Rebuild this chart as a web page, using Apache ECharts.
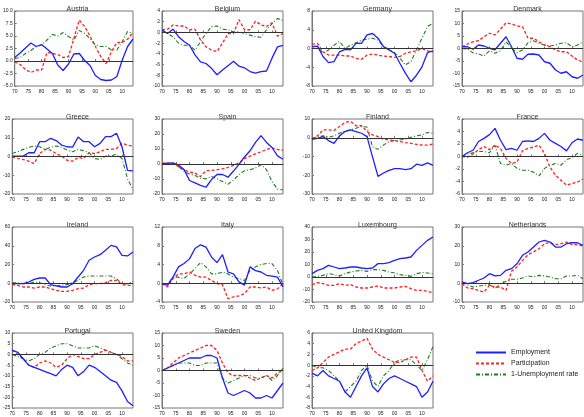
<!DOCTYPE html>
<html><head><meta charset="utf-8">
<script src="https://cdn.jsdelivr.net/npm/echarts@6/dist/echarts.min.js"></script>
<style>html,body{margin:0;padding:0;background:#fff}#c{width:584px;height:417px}</style>
</head><body><div id="c"></div>
<script>
const YEARS=[1970,1972,1974,1976,1978,1980,1982,1984,1986,1988,1990,1992,1994,1996,1998,2000,2002,2004,2006,2008,2010,2012,2014];
const SERIES_NAMES=['Employment','Participation','1-Unemployment rate'];

const austriaEmp=[0.7,1.6,2.6,3.6,2.9,3.3,2.4,1.5,-0.8,-1.9,-0.6,1.4,1.5,0.1,-0.9,-2.9,-3.7,-3.9,-3.8,-3.1,0.2,2.9,4.4];
const austriaPart=[-0.2,-0.7,-1.7,-2.3,-1.8,-1.8,1.7,1.5,1.3,0.7,0.9,4.5,8.2,6.9,5.0,2.9,0.9,-0.5,1.9,3.7,3.7,4.4,5.7];
const austriaUnemp=[0.5,0.7,1.5,2.1,2.9,3.2,4.2,5.3,5.0,5.7,4.9,4.2,6.1,5.5,4.5,3.2,2.9,2.9,2.2,2.2,3.9,5.9,5.5];

const belgiumEmp=[0.4,-0.2,0.6,-0.8,-1.7,-2.4,-4.2,-5.5,-5.8,-6.7,-7.9,-7.0,-6.2,-5.4,-6.3,-6.6,-7.3,-7.6,-7.3,-7.2,-4.8,-2.7,-2.4];
const belgiumPart=[0.5,0.6,1.4,1.2,1.2,0.5,0.6,-1.4,-2.7,-3.3,-3.6,-2.0,-0.2,-0.2,2.4,0.5,0.5,2.1,1.4,1.1,1.8,-0.7,-0.2];
const belgiumUnemp=[0.5,-0.2,-0.8,-2.0,-2.4,-2.4,-3.3,-1.7,-0.2,1.1,1.2,0.6,0.5,0.1,0.1,-0.2,-0.5,-0.8,-0.9,0.5,1.6,2.6,2.2];

const germanyEmp=[0.4,0.5,-1.7,-3.0,-2.8,-0.7,-0.2,-0.3,1.1,1.1,2.9,3.2,2.2,0.4,-0.3,-1.0,-3.2,-5.3,-7.1,-5.7,-3.9,-0.9,-0.5];
const germanyPart=[0.9,1.1,-0.7,-1.4,-1.4,-1.4,-1.6,-1.6,-2.1,-2.3,-1.4,-1.2,-1.4,-1.6,-1.7,-1.9,-1.7,-1.0,-0.7,-0.5,0.0,-0.5,-0.7];
const germanyUnemp=[0.4,0.4,-1.0,-0.3,0.7,1.5,0.0,0.7,1.2,1.8,2.0,2.2,1.8,0.4,-0.2,-0.9,-2.1,-3.5,-2.8,-0.3,2.2,4.7,5.4];

const denmarkEmp=[0.7,0.7,-0.3,1.4,1.0,0.1,-0.5,2.1,4.7,0.7,-3.9,-4.3,-2.3,-2.2,-2.6,-5.3,-5.9,-8.6,-9.9,-9.3,-11.3,-11.9,-10.6];
const denmarkPart=[0.7,1.8,2.7,3.1,4.7,6.1,5.4,7.7,10.3,9.8,9.0,8.7,4.1,4.1,2.7,1.4,0.7,-0.6,-1.3,-1.3,-3.0,-4.6,-5.5];
const denmarkUnemp=[0.0,-0.3,-1.7,-2.2,-3.0,-0.9,-1.9,-0.9,2.7,0.1,-1.7,-0.6,2.3,3.1,2.1,1.4,1.0,1.4,2.1,2.3,0.7,1.4,2.7];

const greeceEmp=[0.2,0.2,0.2,2.0,2.0,7.9,7.9,9.7,8.5,6.1,5.2,5.0,10.4,7.9,7.9,5.2,7.0,10.6,10.6,12.4,5.2,-7.4,-7.7];
const greecePart=[-0.2,-1.1,-1.6,-2.5,-3.8,1.6,3.8,3.4,1.6,0.2,-2.0,-2.5,-0.5,-1.1,2.0,1.6,2.5,3.8,3.8,4.3,7.0,6.1,5.6];
const greeceUnemp=[1.6,2.5,3.8,4.9,5.6,5.2,3.8,4.9,5.6,4.9,3.4,2.5,3.8,3.1,2.0,-1.1,-1.6,0.2,0.2,1.3,-1.1,-11.9,-17.7];

const spainEmp=[0.0,0.5,0.8,-0.7,-3.6,-11.0,-12.6,-14.2,-15.5,-10.4,-7.0,-7.0,-8.8,-4.7,-0.3,4.7,8.8,14.4,18.9,14.4,11.0,5.4,3.2];
const spainPart=[0.5,0.5,0.0,-1.6,-3.8,-5.4,-6.1,-8.3,-4.5,-4.3,-3.8,-3.2,-2.3,-0.9,0.7,3.6,5.2,6.8,8.1,9.7,10.8,9.7,9.2];
const spainUnemp=[0.0,0.2,0.2,-1.6,-4.9,-6.7,-7.6,-9.4,-9.9,-8.3,-9.9,-11.7,-13.5,-10.6,-7.2,-4.5,-3.8,-2.7,-0.5,-3.8,-11.7,-16.7,-17.3];

const finlandEmp=[-0.8,-0.3,0.6,-1.5,-3.0,1.0,3.3,4.2,3.3,2.4,0.6,-10.2,-20.6,-18.8,-17.4,-16.5,-16.5,-17.0,-16.5,-14.1,-14.7,-13.4,-14.7];
const finlandPart=[-0.5,1.0,4.2,4.2,3.9,6.0,8.2,8.7,6.4,6.4,3.3,1.5,0.6,-0.8,-1.2,-1.5,-2.1,-2.6,-3.0,-3.5,-3.9,-3.9,-3.3];
const finlandUnemp=[-0.3,0.3,1.0,0.3,1.0,2.4,3.7,4.2,5.1,6.0,5.7,-4.8,-6.2,-3.9,-2.1,-1.5,-1.2,-0.8,0.3,1.0,1.5,2.8,2.4];

const franceEmp=[0.0,0.6,1.0,2.4,2.9,3.5,4.5,2.6,1.1,1.3,1.0,2.4,2.5,2.4,2.9,3.7,2.6,2.1,1.6,0.9,2.2,2.8,2.6];
const francePart=[0.0,-0.1,0.4,1.1,1.6,1.1,1.8,1.3,-0.3,-1.1,-0.9,0.9,1.3,1.5,1.8,0.5,-1.7,-3.0,-3.8,-4.6,-4.3,-4.1,-3.6];
const franceUnemp=[0.0,0.4,0.6,0.8,0.8,0.6,1.8,-1.1,-1.4,-1.1,-1.9,-2.2,-2.2,-2.5,-3.1,-1.9,-1.4,-1.1,-1.4,-0.5,-0.2,0.5,0.2];

const irelandEmp=[-0.4,-0.4,-0.4,1.3,4.2,5.6,5.6,-1.5,-2.9,-4.0,-4.0,-0.5,6.7,13.8,24.5,28.0,30.5,35.1,40.4,38.7,29.8,29.1,33.4];
const irelandPart=[-1.5,-2.2,-4.0,-4.0,-5.1,-4.0,-4.0,-5.8,-7.6,-8.6,-8.6,-7.6,-5.8,-5.1,-1.5,-0.4,-0.4,0.6,3.1,3.1,-1.5,-2.2,-2.2];
const irelandUnemp=[0.6,0.6,-0.4,-0.4,1.3,0.6,-1.5,-2.9,-2.9,-2.2,-1.5,0.6,3.1,6.7,7.7,7.7,7.7,7.7,7.7,4.9,-0.4,-0.4,2.0];

const italyEmp=[-0.1,-0.4,1.3,3.5,4.2,5.2,7.4,8.2,7.7,5.6,4.4,6.1,2.4,2.0,0.3,-0.4,3.5,2.7,2.4,1.7,1.5,1.3,-0.8];
const italyPart=[-0.1,-0.8,1.0,2.0,2.0,2.4,1.7,1.3,1.3,0.6,-0.1,-0.3,-3.3,-2.9,-2.7,-2.2,-0.8,-0.8,-1.0,-0.8,-1.5,-1.2,-0.1];
const italyUnemp=[-0.1,-0.4,1.3,1.3,1.0,2.0,3.1,4.4,3.5,2.0,2.0,2.4,2.0,1.3,1.0,0.6,2.7,3.5,4.0,4.2,4.2,2.7,-0.4];

const luxembourgEmp=[2.7,5.3,6.7,9.3,8.0,6.7,7.2,8.0,8.0,7.2,6.7,7.2,10.7,10.7,11.5,13.3,14.7,15.2,16.0,21.3,25.3,29.3,32.0];
const luxembourgPart=[-6.1,-4.5,-5.3,-6.7,-6.7,-5.3,-6.7,-6.1,-8.0,-8.8,-8.8,-8.0,-7.2,-8.8,-8.8,-8.8,-8.0,-7.5,-9.3,-10.7,-10.7,-11.5,-12.5];
const luxembourgUnemp=[0.0,0.5,1.3,2.7,1.9,0.8,2.7,4.0,4.8,5.3,4.5,5.9,5.9,5.3,4.0,3.2,1.9,1.3,0.5,2.7,3.5,3.2,2.7];

const netherlandsEmp=[0.7,-0.2,0.3,1.6,2.8,5.1,3.9,4.2,6.9,7.8,10.4,14.9,16.7,19.3,22.0,22.9,22.0,19.3,19.3,21.1,21.6,21.6,20.2];
const netherlandsPart=[-0.2,-2.5,-2.9,-3.8,-4.7,-1.1,-2.0,-2.0,-3.8,6.4,8.7,12.2,15.2,16.7,18.4,21.1,21.6,20.6,21.1,22.0,20.6,20.6,19.8];
const netherlandsUnemp=[0.3,-0.8,-2.0,-1.5,-1.1,-0.8,-2.9,-0.2,1.0,2.1,2.1,2.8,3.9,3.3,4.2,3.9,3.3,2.4,2.4,3.9,3.9,4.2,2.4];

const portugalEmp=[2,1,-2,-5,-6,-7,-8,-9,-10,-7,-5,-6,-10,-8,-5,-6,-8,-10,-12,-13,-17,-22,-24];
const portugalPart=[2,0,-2,-5,-6,-4,-3,-4,-6,-5,-2,0,-1,-2,-2,0,1,2,1,0,-1,-3,-3];
const portugalUnemp=[0,-1,-2,-3,-2,0,1,3,4,5,5,4,3,3,3,4,3,2,1,0,-2,-4,-5];

const swedenEmp=[0,1,2,3,4,5,5,5,6,6,5,-3,-9,-10,-9,-8,-9,-11,-11,-10,-11,-8,-5];
const swedenPart=[0,1,3,5,6,7,8,9,10,10,8,3,-1,-2,-2,-2,-3,-4,-3,-2,-3,-1,0];
const swedenUnemp=[0,1,2,3,3,3,2,2,3,3,3,-3,-5,-4,-3,-2,-2,-3,-3,-2,-4,-2,1];

const ukEmp=[-1.5,-2,-1,-2,-2.5,-3,-5,-6,-4,-2,-0.5,-4,-5,-3.5,-2.5,-2,-2.5,-3,-3.5,-4,-6,-5,-3];
const ukPart=[-1,-0.5,0.5,1.5,2,2.5,3,3,4,4.5,5,3,2,1.5,1,0.5,0.5,1,1.5,1.5,-1,-3,-2];
const ukUnemp=[0,-0.5,-0.5,-1,-2,-3,-5,-4,-3,-1,0,-3,-4,-2,-1,0.5,1,1,1,0,-1,1,3.5];

// y-axis scales: [min, max, interval, decimals]
const panels=[
 ['Austria',austriaEmp,austriaPart,austriaUnemp,-5,10,2.5,1],
 ['Belgium',belgiumEmp,belgiumPart,belgiumUnemp,-10,4,2,0],
 ['Germany',germanyEmp,germanyPart,germanyUnemp,-8,8,4,0],
 ['Denmark',denmarkEmp,denmarkPart,denmarkUnemp,-15,15,5,0],
 ['Greece',greeceEmp,greecePart,greeceUnemp,-20,20,10,0],
 ['Spain',spainEmp,spainPart,spainUnemp,-20,30,10,0],
 ['Finland',finlandEmp,finlandPart,finlandUnemp,-30,10,10,0],
 ['France',franceEmp,francePart,franceUnemp,-6,6,2,0],
 ['Ireland',irelandEmp,irelandPart,irelandUnemp,-20,60,20,0],
 ['Italy',italyEmp,italyPart,italyUnemp,-4,12,4,0],
 ['Luxembourg',luxembourgEmp,luxembourgPart,luxembourgUnemp,-20,40,10,0],
 ['Netherlands',netherlandsEmp,netherlandsPart,netherlandsUnemp,-10,30,10,0],
 ['Portugal',portugalEmp,portugalPart,portugalUnemp,-25,10,5,0],
 ['Sweden',swedenEmp,swedenPart,swedenUnemp,-15,15,5,0],
 ['United Kingdom',ukEmp,ukPart,ukUnemp,-8,6,2,0]
];

const colLeft=[12,162,312,462], rowTop=[11,119,227,333], W=121, H=75;
const FONT='Liberation Sans, Arial, sans-serif';
const grid=[],xAxis=[],yAxis=[],title=[],series=[];
const styles=[
 {color:'#1f1fff',width:1.3,type:'solid'},
 {color:'#ff2020',width:1.3,type:[3,2]},
 {color:'#1b7f1b',width:1.1,type:[4,2,1,2]}
];
panels.forEach((p,i)=>{
  const c=i%4, r=Math.floor(i/4);
  grid.push({left:colLeft[c],top:rowTop[r],width:W,height:H,show:true,borderColor:'#777',borderWidth:1,backgroundColor:'transparent'});
  title.push({text:p[0],left:colLeft[c]+W/2,top:rowTop[r]-10,textAlign:'center',
    textStyle:{fontSize:7,fontWeight:'normal',color:'#333',fontFamily:FONT}});
  xAxis.push({type:'value',gridIndex:i,min:1970,max:2014,interval:5,
    axisLine:{show:true,lineStyle:{color:'#777'}},axisTick:{inside:true,length:2,lineStyle:{color:'#777'}},
    splitLine:{show:false},
    axisLabel:{fontSize:5,margin:3,color:'#222',fontFamily:FONT,showMaxLabel:false,
      formatter:v=>(v%5===0?String(v%100).padStart(2,'0'):'')}});
  const dec=p[7];
  yAxis.push({type:'value',gridIndex:i,min:p[4],max:p[5],interval:p[6],
    axisLine:{show:true,lineStyle:{color:'#777'}},axisTick:{inside:true,length:2,lineStyle:{color:'#777'}},
    splitLine:{show:false},
    axisLabel:{fontSize:5,margin:2,color:'#222',fontFamily:FONT,formatter:v=>v.toFixed(dec)}});
  [p[1],p[2],p[3]].forEach((arr,k)=>{
    const s={type:'line',name:SERIES_NAMES[k],xAxisIndex:i,yAxisIndex:i,symbol:'none',showSymbol:false,
      color:styles[k].color,lineStyle:styles[k],z:3-k,
      data:YEARS.map((y,j)=>[y,arr[j]])};
    if(k===0){
      s.markLine={silent:true,symbol:'none',label:{show:false},
        lineStyle:{color:'#333',width:1,type:'solid'},data:[{yAxis:0}]};
    }
    series.push(s);
  });
});

const chart=echarts.init(document.getElementById('c'),null,{renderer:'canvas'});
chart.setOption({
  animation:false,
  title,grid,xAxis,yAxis,series,
  legend:{data:SERIES_NAMES,orient:'vertical',left:470,top:344,itemGap:4,itemWidth:30,itemHeight:6,
    itemStyle:{opacity:0},
    textStyle:{fontSize:7,color:'#222',fontFamily:FONT}}
});
</script></body></html>
